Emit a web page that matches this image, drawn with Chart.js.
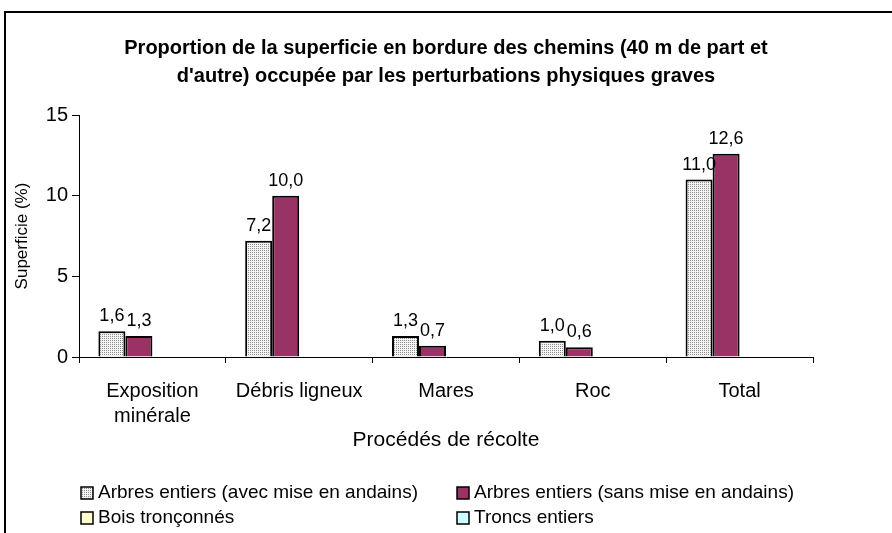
<!DOCTYPE html>
<html>
<head>
<meta charset="utf-8">
<script src="https://cdn.jsdelivr.net/npm/chart.js@4.4.1/dist/chart.umd.min.js"></script>
<style>
  html, body { margin: 0; padding: 0; background: #fff; overflow: hidden; }
  #wrap { position: relative; width: 892px; height: 533px; }
  #frame { position: absolute; left: 4px; top: 11px; width: 1000px; height: 1000px; border: 2px solid #000; }
  canvas { position: absolute; left: 0; top: 0; }
</style>
</head>
<body>
<div id="wrap">
  <div id="frame"></div>
  <canvas id="chart" width="892" height="533"></canvas>
</div>
<script>
// data
const categories = [['Exposition', 'minérale'], 'Débris ligneux', 'Mares', 'Roc', 'Total'];
const seriesNames = [
    'Arbres entiers (avec mise en andains)',
    'Arbres entiers (sans mise en andains)',
    'Bois tronçonnés',
    'Troncs entiers'
];
const avecAndains = [1.6, 7.2, 1.3, 1.0, 11.0];
const sansAndains = [1.3, 10.0, 0.7, 0.6, 12.6];
const boisTronconnes = [null, null, null, null, null];  // no values in the source
const troncsEntiers = [null, null, null, null, null];
const yTicks = [0, 5, 10, 15];

const FONT = "'Liberation Sans', Arial, sans-serif";

// light dotted fill, like the Excel pattern
function makeDots() {
    const c = document.createElement('canvas');
    c.width = 2; c.height = 2;
    const g = c.getContext('2d');
    g.fillStyle = '#f4f4f4';
    g.fillRect(0, 0, 2, 2);
    g.fillStyle = '#8c8c8c';
    g.fillRect(0, 0, 1, 1);
    return g.createPattern(c, 'repeat');
}
const dots = makeDots();
const fills = [dots, '#993366', '#ffffcc', '#ccffff'];

// value labels above the bars (french decimal comma)
const valueLabels = {
    id: 'valueLabels',
    afterDatasetsDraw(chart) {
        const ctx = chart.ctx;
        ctx.save();
        ctx.font = '18px ' + FONT;
        ctx.fillStyle = '#000';
        ctx.textAlign = 'center';
        ctx.textBaseline = 'alphabetic';
        chart.data.datasets.forEach((ds, i) => {
            const meta = chart.getDatasetMeta(i);
            meta.data.forEach((bar, j) => {
                const v = ds.data[j];
                if (v === null) return;
                ctx.fillText(v.toFixed(1).replace('.', ','), bar.x, bar.y - 10);
            });
        });
        ctx.restore();
    }
};

// two column legend at the bottom
const columnLegend = {
    id: 'columnLegend',
    afterDraw(chart) {
        const ctx = chart.ctx;
        const left = chart.chartArea.left;
        const cols = [left + 2, left + 378];
        const rows = [chart.chartArea.bottom + 136, chart.chartArea.bottom + 161];
        ctx.save();
        ctx.font = '19px ' + FONT;
        ctx.textBaseline = 'middle';
        ctx.textAlign = 'left';
        seriesNames.forEach((name, i) => {
            const x = cols[i % 2];
            const y = rows[Math.floor(i / 2)];
            ctx.fillStyle = fills[i];
            ctx.fillRect(x, y - 6, 12, 12);
            ctx.lineWidth = 1.5;
            ctx.strokeStyle = '#000';
            ctx.strokeRect(x, y - 6, 12, 12);
            ctx.fillStyle = '#000';
            ctx.fillText(name, x + 17, y);
        });
        ctx.restore();
    }
};

const ctx = document.getElementById('chart').getContext('2d');
new Chart(ctx, {
    type: 'bar',
    data: {
        labels: categories,
        datasets: [
            { label: seriesNames[0], data: avecAndains, backgroundColor: fills[0] },
            { label: seriesNames[1], data: sansAndains, backgroundColor: fills[1] },
            { label: seriesNames[2], data: boisTronconnes, backgroundColor: fills[2] },
            { label: seriesNames[3], data: troncsEntiers, backgroundColor: fills[3] }
        ]
    },
    options: {
        responsive: false,
        animation: false,
        devicePixelRatio: 1,
        datasets: {
            bar: {
                borderColor: '#000',
                borderWidth: 2,
                categoryPercentage: 0.736,
                barPercentage: 1.0
            }
        },
        layout: { padding: { left: 0, right: 0, top: 0, bottom: 73 } },
        scales: {
            x: {
                grid: { display: true, drawOnChartArea: false, drawTicks: true, tickLength: 6, color: '#000' },
                border: { color: '#000', width: 1 },
                ticks: {
                    color: '#000',
                    font: { family: FONT, size: 20, lineHeight: 1.25 },
                    padding: 16,
                    maxRotation: 0,
                    autoSkip: false
                },
                title: {
                    display: true,
                    text: 'Procédés de récolte',
                    color: '#000',
                    font: { family: FONT, size: 21, lineHeight: 1.2 },
                    padding: { top: 0, bottom: 7 }
                },
                afterFit(scale) { scale.height = 103; }
            },
            y: {
                min: 0,
                max: 15,
                afterBuildTicks(scale) { scale.ticks = yTicks.map(v => ({ value: v })); },
                grid: { display: true, drawOnChartArea: false, drawTicks: true, tickLength: 7, color: '#000' },
                border: { color: '#000', width: 1 },
                ticks: {
                    color: '#000',
                    font: { family: FONT, size: 20 },
                    padding: 4
                },
                title: {
                    display: true,
                    text: 'Superficie (%)',
                    color: '#000',
                    font: { family: FONT, size: 17, lineHeight: 1.2 },
                    padding: { top: 12, bottom: 0 }
                },
                afterFit(scale) { scale.width = 79; }
            },
            // empty box on the right so the plot stops where the original does
            yRight: {
                position: 'right',
                grid: { display: false },
                border: { display: false },
                ticks: { display: false },
                afterFit(scale) { scale.width = 79; }
            }
        },
        plugins: {
            legend: { display: false },
            tooltip: { enabled: false },
            title: {
                display: true,
                text: [
                    'Proportion de la superficie en bordure des chemins (40 m de part et',
                    "d'autre) occupée par les perturbations physiques graves"
                ],
                color: '#000',
                font: { family: FONT, size: 20, weight: 'bold', lineHeight: 1.4 },
                padding: { top: 34, bottom: 25 }
            }
        }
    },
    plugins: [valueLabels, columnLegend]
});
</script>
</body>
</html>
